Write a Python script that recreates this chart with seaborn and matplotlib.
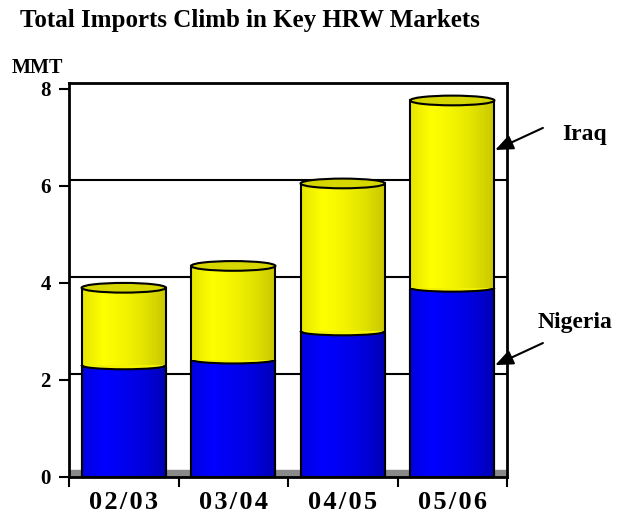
import numpy as np
import matplotlib
matplotlib.use("Agg")
import matplotlib.pyplot as plt
import seaborn as sns
from matplotlib.patches import Rectangle, Ellipse
from matplotlib.colors import LinearSegmentedColormap

# data (MMT)
seasons = ["02/03", "03/04", "04/05", "05/06"]
nigeria = [2.30, 2.42, 3.00, 3.90]
iraq = [1.60, 1.93, 3.05, 3.86]
total = [n + i for n, i in zip(nigeria, iraq)]

sns.set_style("white")
plt.rcParams["font.family"] = ["Liberation Serif", "DejaVu Serif"]
plt.rcParams["font.weight"] = "bold"
plt.rcParams["text.color"] = "black"
plt.rcParams["xtick.color"] = "black"
plt.rcParams["ytick.color"] = "black"

fig = plt.figure(figsize=(6.36, 5.18), dpi=100)
ax = fig.add_axes([69 / 636, 1 - 477 / 518, 438 / 636, 394 / 518])

bar_w = 0.77
sns.barplot(x=seasons, y=total, color="#ffff00", width=bar_w, saturation=1,
            linewidth=0, ax=ax, zorder=2)
sns.barplot(x=seasons, y=nigeria, color="#0000ff", width=bar_w, saturation=1,
            linewidth=0, ax=ax, zorder=3)

yellow_cm = LinearSegmentedColormap.from_list(
    "cyl_y", ["#e6e600", "#ffff00", "#f4f400", "#e2e200", "#c8c800"])
blue_cm = LinearSegmentedColormap.from_list(
    "cyl_b", ["#0000e0", "#0000ff", "#0000f0", "#0000dc", "#0000b4"])
grad = np.linspace(0, 1, 64).reshape(1, -1)

n = len(seasons)
yellow_bars = ax.patches[:n]
blue_bars = ax.patches[n:2 * n]

for group, cmap, z in [(yellow_bars, yellow_cm, 2), (blue_bars, blue_cm, 3)]:
    for p in group:
        x0, y0 = p.get_x(), p.get_y()
        w, h = p.get_width(), p.get_height()
        im = ax.imshow(grad, extent=[x0, x0 + w, y0, y0 + h], cmap=cmap,
                       aspect="auto", zorder=z + 0.1, interpolation="bilinear")
        im.set_clip_path(p)
        outline = Rectangle((x0, y0), w, h, fill=False, edgecolor="black",
                            linewidth=1.5, zorder=z + 0.2)
        ax.add_patch(outline)
        if z == 3:
            # no flat top line on the lower segment: the seam arc replaces it
            outline.set_clip_path(Rectangle((x0 - 0.05, -1), w + 0.1, h + 0.97,
                                            transform=ax.transData))

# cylinder caps and seams
for p in yellow_bars:
    cx = p.get_x() + p.get_width() / 2
    ax.add_patch(Ellipse((cx, p.get_height()), p.get_width(), 0.2,
                         facecolor="#d6d600", edgecolor="black",
                         linewidth=1.5, zorder=4))
for p in blue_bars:
    cx = p.get_x() + p.get_width() / 2
    seam = Ellipse((cx, p.get_height()), p.get_width(), 0.16,
                   facecolor="#f2f200", edgecolor="black", linewidth=1.5,
                   zorder=3.5)
    ax.add_patch(seam)
    seam.set_clip_path(Rectangle((p.get_x() - 0.05, 0), p.get_width() + 0.1,
                                 p.get_height(), transform=ax.transData))

# back wall grid and floor
for v in [2, 4, 6]:
    ax.axhline(v + 0.12, color="black", linewidth=1.5, zorder=1)
ax.axhspan(0, 0.14, color="#8a8a8a", zorder=1)

ax.set_xlim(-0.5, 3.5)
ax.set_ylim(0, 8.12)
ax.set_yticks([0, 2, 4, 6, 8])
ax.set_xticks(range(n))
# the original letter-spaces the season labels
ax.set_xticklabels(["\u200a".join(s) for s in seasons])
ax.set_xticks([i - 0.5 for i in range(n + 1)], minor=True)
ax.set_xlabel("")
ax.set_ylabel("")

ax.tick_params(axis="y", direction="out", length=7, width=1.5, pad=6,
               labelsize=15, left=True)
ax.tick_params(axis="x", which="major", length=0, pad=10, labelsize=19)
ax.tick_params(axis="x", which="minor", direction="out", length=7,
               width=1.5, bottom=True)
for lab in ax.get_xticklabels() + ax.get_yticklabels():
    lab.set_fontweight("bold")

for s in ax.spines.values():
    s.set_visible(True)
    s.set_color("black")
    s.set_linewidth(2)

fig.text(20 / 636, 1 - 27 / 518, "Total Imports Climb in Key HRW Markets",
         fontsize=18, fontweight="bold", va="baseline", ha="left")
fig.text(12 / 636, 1 - 73 / 518, "MMT", fontsize=14.5, fontweight="bold",
         va="baseline", ha="left")

arrow = dict(arrowstyle="-|>,head_length=0.6,head_width=0.25",
             color="black", linewidth=1.5, mutation_scale=18,
             shrinkA=0, shrinkB=0)
ax.annotate("", xy=(0.973, 0.830), xytext=(1.082, 0.886),
            xycoords="axes fraction", arrowprops=arrow, annotation_clip=False)
ax.annotate("", xy=(0.973, 0.284), xytext=(1.082, 0.340),
            xycoords="axes fraction", arrowprops=arrow, annotation_clip=False)
ax.text(1.126, 0.855, "Iraq", transform=ax.transAxes, fontsize=17,
        fontweight="bold", va="baseline", ha="left")
ax.text(1.071, 0.378, "Nigeria", transform=ax.transAxes, fontsize=17,
        fontweight="bold", va="baseline", ha="left")

fig.savefig("out.png", dpi=100)
